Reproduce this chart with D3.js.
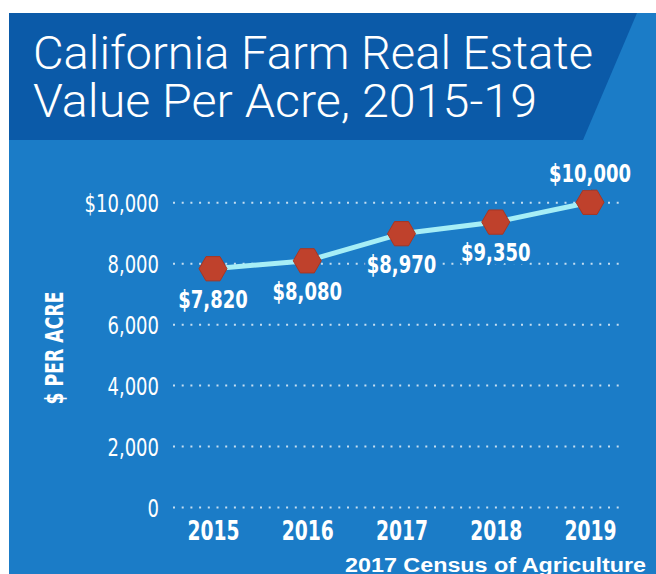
<!DOCTYPE html>
<html>
  <head>
    <meta charset="utf-8">
    <title>California farm real estate value per acre</title>
    <script src="https://cdn.jsdelivr.net/npm/d3@7"></script>
    <style>
      body { margin: 0; background: #fff; }
      svg { display: block; }
      .narrow { font-family: "Liberation Sans Narrow", "DejaVu Sans Condensed", "Liberation Sans", sans-serif; }
    </style>
  </head>

  <body>
    <svg id="chart" width="656" height="574"></svg>

    <script>
      // data
      years = ["2015", "2016", "2017", "2018", "2019"];
      values = [7820, 8080, 8970, 9350, 10000];
      valueLabels = ["$7,820", "$8,080", "$8,970", "$9,350", "$10,000"];
      tickValues = [0, 2000, 4000, 6000, 8000, 10000];
      tickLabels = ["0", "2,000", "4,000", "6,000", "8,000", "$10,000"];
      titleLines = ["California Farm Real Estate", "Value Per Acre, 2015-19"];
      yTitle = "$ PER ACRE";
      source = "2017 Census of Agriculture";

      // colours
      panelBlue = "#1b7cc7";
      headerBlue = "#0b5aa8";
      lineCyan = "#a6eef6";
      markerRed = "#bf412c";

      svg = d3.select("#chart");

      // squeeze condensed text down to the narrow face of the original
      function squeeze(selection, k) {
        selection.each(function() {
          w = this.getComputedTextLength();
          d3.select(this)
            .attr("textLength", w * k)
            .attr("lengthAdjust", "spacingAndGlyphs");
        });
      }

      // background panel + header
      svg.append("rect")
        .attr("x", 9)
        .attr("y", 13)
        .attr("width", 647)
        .attr("height", 561)
        .attr("fill", panelBlue);

      svg.append("path")
        .attr("d", "M9,13 L637,13 L583,140 L9,140 Z")
        .attr("fill", headerBlue);

      svg.selectAll(".title")
          .data(titleLines)
        .enter().append("text")
          .classed("title", true)
          .attr("x", 33)
          .attr("y", function(d, i) { return 69 + i * 48; })
          .attr("textLength", function(d, i) { return i == 0 ? 560 : 504; })
          .attr("lengthAdjust", "spacingAndGlyphs")
          .style("font-family", "Roboto, 'Liberation Sans', sans-serif")
          .style("font-weight", 300)
          .style("font-size", "47px")
          .attr("fill", "#fff")
          .text(function(d) { return d; });

      // scales
      gridLeft = 173;
      gridRight = 625;

      x = d3.scalePoint()
        .domain(years)
        .range([213, 590]);

      y = d3.scaleLinear()
        .domain([0, 10000])
        .range([507, 202.3]);

      // y axis + dotted grid
      yAxis = svg.append("g")
        .classed("narrow", true)
        .attr("transform", "translate(" + gridLeft + ",0)")
        .call(d3.axisLeft(y)
          .tickValues(tickValues)
          .tickSize(-(gridRight - gridLeft))
          .tickPadding(14)
          .tickFormat(function(d, i) { return tickLabels[i]; }));

      yAxis.select(".domain").remove();
      yAxis.selectAll(".tick line")
        .attr("stroke", "rgba(255,255,255,0.75)")
        .attr("stroke-width", 2)
        .attr("stroke-dasharray", "2 6.7");
      yAxis.selectAll(".tick text")
        .attr("fill", "#fff")
        .attr("dy", "0.36em")
        .style("font-size", "25px")
        .call(squeeze, 0.8);

      // x axis
      xAxis = svg.append("g")
        .classed("narrow", true)
        .attr("transform", "translate(0," + y(0) + ")")
        .call(d3.axisBottom(x).tickSize(0));

      xAxis.select(".domain").remove();
      xAxis.selectAll(".tick text")
        .attr("fill", "#fff")
        .attr("y", 33)
        .attr("dy", null)
        .style("font-size", "26px")
        .style("font-weight", "bold")
        .call(squeeze, 0.8);

      // y axis title
      svg.append("text")
        .classed("narrow", true)
        .attr("transform", "translate(63,348) rotate(-90)")
        .attr("text-anchor", "middle")
        .attr("textLength", 113)
        .attr("lengthAdjust", "spacingAndGlyphs")
        .attr("fill", "#fff")
        .style("font-size", "24px")
        .style("font-weight", "bold")
        .text(yTitle);

      // line
      line = d3.line()
        .x(function(d, i) { return x(years[i]); })
        .y(function(d) { return y(d); });

      svg.append("path")
        .datum(values)
        .attr("d", line)
        .attr("fill", "none")
        .attr("stroke", lineCyan)
        .attr("stroke-width", 5);

      // hexagon markers
      hexagon = d3.range(6).map(function(k) {
        a = k * Math.PI / 3;
        return [14 * Math.cos(a), 14 * Math.sin(a)];
      });

      svg.selectAll(".marker")
          .data(values)
        .enter().append("path")
          .classed("marker", true)
          .attr("d", "M" + hexagon.join("L") + "Z")
          .attr("transform", function(d, i) { return "translate(" + x(years[i]) + "," + y(d) + ")"; })
          .attr("fill", markerRed)
          .attr("stroke", "#a83622")
          .attr("stroke-width", 1);

      // value labels
      svg.selectAll(".valueLabel")
          .data(values)
        .enter().append("text")
          .classed("valueLabel narrow", true)
          .attr("x", function(d, i) { return x(years[i]); })
          .attr("y", function(d, i) { return y(d) + (i == values.length - 1 ? -20 : 39); })
          .attr("text-anchor", "middle")
          .attr("fill", "#fff")
          .attr("stroke", panelBlue)
          .attr("stroke-width", 8)
          .attr("paint-order", "stroke")
          .style("font-size", "25px")
          .style("font-weight", "bold")
          .text(function(d, i) { return valueLabels[i]; })
          .call(squeeze, 0.8);

      // source
      svg.append("text")
        .attr("x", 646)
        .attr("y", 572)
        .attr("text-anchor", "end")
        .attr("textLength", 301)
        .attr("lengthAdjust", "spacingAndGlyphs")
        .attr("fill", "#fff")
        .style("font-family", "'Liberation Sans', Arial, sans-serif")
        .style("font-size", "20px")
        .style("font-weight", "bold")
        .text(source);
    </script>
  </body>
</html>
